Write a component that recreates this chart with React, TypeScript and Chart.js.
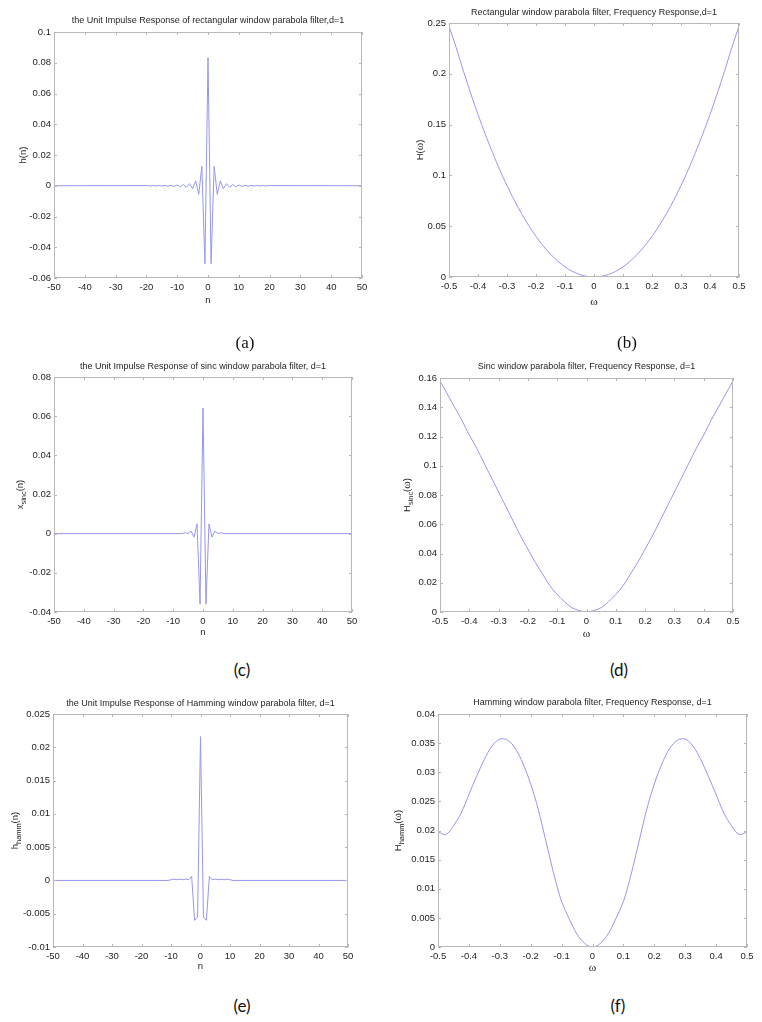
import React, { useEffect, useRef } from "react";
import { Chart, registerables } from "chart.js";

Chart.register(...registerables);

// ---------------- DATA ----------------
// (a) rectangular window impulse response
const nRect = [-50, -20, -19, -18, -17, -16, -15, -14, -13, -12, -11, -10, -9, -8, -7, -6, -5, -4, -3, -2, -1, 0, 1, 2, 3, 4, 5, 6, 7, 8, 9, 10, 11, 12, 13, 14, 15, 16, 17, 18, 19, 20, 50];
const hRect = [0, 0.00013, -0.00014, 0.00016, -0.00018, 0.0002, -0.00023, 0.00026, -0.0003, 0.00035, -0.00042, 0.0005, -0.00063, 0.00079, -0.001, 0.0014, -0.002, 0.0032, -0.0056, 0.0127, -0.0507, 0.0833, -0.0507, 0.0127, -0.0056, 0.0032, -0.002, 0.0014, -0.001, 0.00079, -0.00063, 0.0005, -0.00042, 0.00035, -0.0003, 0.00026, -0.00023, 0.0002, -0.00018, 0.00016, -0.00014, 0.00013, 0];

// (c) sinc window impulse response
const nSinc = [-50, -7, -6, -5, -4, -3, -2, -1, 0, 1, 2, 3, 4, 5, 6, 7, 50];
const hSinc = [0, 0, 0.0005, 0.0001, 0.0013, -0.0018, 0.005, -0.036, 0.0642, -0.036, 0.005, -0.0018, 0.0013, 0.0001, 0.0005, 0, 0];

// (e) Hamming window impulse response
const nHamm = [-50, -11, -10, -9, -8, -7, -6, -5, -4, -3, -2, -1, 0, 1, 2, 3, 4, 5, 6, 7, 8, 9, 10, 11, 50];
const hHamm = [0, 0, 0.0001, 0.0002, 0.0001, 0.0002, 0.0001, 0.0002, 0.0001, 0.0006, -0.006, -0.0055, 0.0216, -0.0055, -0.006, 0.0006, 0.0001, 0.0002, 0.0001, 0.0002, 0.0001, 0.0002, 0.0001, 0, 0];

// frequency axis
const omega = [-0.5, -0.475, -0.45, -0.425, -0.4, -0.375, -0.35, -0.325, -0.3, -0.275, -0.25, -0.225, -0.2, -0.175, -0.15, -0.125, -0.1, -0.075, -0.05, -0.025, 0, 0.025, 0.05, 0.075, 0.1, 0.125, 0.15, 0.175, 0.2, 0.225, 0.25, 0.275, 0.3, 0.325, 0.35, 0.375, 0.4, 0.425, 0.45, 0.475, 0.5];

// (b) rectangular window frequency response
const HRect = [0.247, 0.2256, 0.2025, 0.1806, 0.16, 0.1406, 0.1225, 0.1056, 0.09, 0.0756, 0.0625, 0.0506, 0.04, 0.0306, 0.0225, 0.0156, 0.01, 0.0056, 0.0025, 0.0006, 0, 0.0006, 0.0025, 0.0056, 0.01, 0.0156, 0.0225, 0.0306, 0.04, 0.0506, 0.0625, 0.0756, 0.09, 0.1056, 0.1225, 0.1406, 0.16, 0.1806, 0.2025, 0.2256, 0.247];

// (d) sinc window frequency response
const HSinc = [0.158, 0.149, 0.14, 0.131, 0.121, 0.112, 0.102, 0.092, 0.082, 0.072, 0.062, 0.052, 0.043, 0.034, 0.026, 0.018, 0.012, 0.007, 0.003, 0.001, 0, 0.001, 0.003, 0.007, 0.012, 0.018, 0.026, 0.034, 0.043, 0.052, 0.062, 0.072, 0.082, 0.092, 0.102, 0.112, 0.121, 0.131, 0.14, 0.149, 0.158];

// (f) Hamming window frequency response
const HHamm = [0.0198, 0.0193, 0.0208, 0.023, 0.0262, 0.0293, 0.0322, 0.0345, 0.0357, 0.0355, 0.0341, 0.0315, 0.028, 0.0235, 0.018, 0.0125, 0.0078, 0.0048, 0.0022, 0.0006, 0, 0.0006, 0.0022, 0.0048, 0.0078, 0.0125, 0.018, 0.0235, 0.028, 0.0315, 0.0341, 0.0355, 0.0357, 0.0345, 0.0322, 0.0293, 0.0262, 0.023, 0.0208, 0.0193, 0.0198];

// ---------------- STYLE ----------------
const LINE_COLOR = "rgb(150,150,240)";
const BOX_COLOR = "#b8b8b8";
const TEXT_COLOR = "#1e1e1e";
const SANS = '"Liberation Sans", Arial, sans-serif';
const SERIF = '"Liberation Serif", "Times New Roman", serif';
const TICK_SIZE = 9.5;

type Part = { t: string; sub?: boolean; serif?: boolean };

interface Spec {
  L: number; R: number; T: number; B: number;
  title: string;
  titleY: number;
  xLabel: Part[]; xLabelY: number;
  yLabel: Part[]; yLabelX: number;
  xs: number[]; ys: number[];
  smooth: number;
  xMin: number; xMax: number; xStep: number;
  yMin: number; yMax: number; yStep: number;
}

const PAD_L = 62;
const PAD_T = 32;
const PAD_R = 16;
const PAD_B = 32;

function drawParts(ctx: CanvasRenderingContext2D, parts: Part[], size: number) {
  const subSize = size * 0.78;
  const fontFor = (p: Part) =>
    `${p.sub ? subSize : p.serif ? size * 1.2 : size}px ${p.serif ? SERIF : SANS}`;
  let total = 0;
  const widths = parts.map((p) => {
    ctx.font = fontFor(p);
    const w = ctx.measureText(p.t).width;
    total += w;
    return w;
  });
  let x = -total / 2;
  parts.forEach((p, i) => {
    ctx.font = fontFor(p);
    ctx.fillText(p.t, x, p.sub ? size * 0.38 : 0);
    x += widths[i];
  });
}

const matlabPlugin = {
  id: "matlabFrame",
  afterDraw(chart: any, _args: any, opts: any) {
    const { ctx, chartArea: a, scales } = chart;
    ctx.save();
    // box
    ctx.strokeStyle = BOX_COLOR;
    ctx.lineWidth = 1;
    ctx.strokeRect(a.left + 0.5, a.top + 0.5, a.right - a.left - 1, a.bottom - a.top - 1);
    // inward ticks
    const tl = 3;
    ctx.beginPath();
    scales.x.ticks.forEach((t: any) => {
      const px = Math.round(scales.x.getPixelForValue(t.value)) + 0.5;
      ctx.moveTo(px, a.bottom);
      ctx.lineTo(px, a.bottom - tl);
      ctx.moveTo(px, a.top);
      ctx.lineTo(px, a.top + tl);
    });
    scales.y.ticks.forEach((t: any) => {
      const py = Math.round(scales.y.getPixelForValue(t.value)) + 0.5;
      ctx.moveTo(a.left, py);
      ctx.lineTo(a.left + tl, py);
      ctx.moveTo(a.right, py);
      ctx.lineTo(a.right - tl, py);
    });
    ctx.stroke();

    ctx.fillStyle = TEXT_COLOR;
    ctx.textBaseline = "middle";
    ctx.textAlign = "left";
    // title
    ctx.font = `9px ${SANS}`;
    const tw = ctx.measureText(opts.title).width;
    ctx.fillText(opts.title, (a.left + a.right) / 2 - tw / 2, a.top - opts.titleOff);
    // x label
    ctx.save();
    ctx.translate((a.left + a.right) / 2, a.bottom + opts.xLabOff);
    drawParts(ctx, opts.xLabel, 9.5);
    ctx.restore();
    // y label
    ctx.save();
    ctx.translate(a.left - opts.yLabOff, (a.top + a.bottom) / 2);
    ctx.rotate(-Math.PI / 2);
    drawParts(ctx, opts.yLabel, 9.5);
    ctx.restore();
    ctx.restore();
  },
};

const fmt = (v: any) => String(+Number(v).toFixed(6));

function Panel({ s }: { s: Spec }) {
  const ref = useRef<HTMLCanvasElement>(null);
  const w = s.R - s.L + PAD_L + PAD_R;
  const h = s.B - s.T + PAD_T + PAD_B;
  useEffect(() => {
    const chart = new Chart(ref.current as HTMLCanvasElement, {
      type: "line",
      data: {
        datasets: [
          {
            data: s.xs.map((x, i) => ({ x, y: s.ys[i] })),
            borderColor: LINE_COLOR,
            borderWidth: 1,
            pointRadius: 0,
            tension: s.smooth,
            fill: false,
          },
        ],
      },
      options: {
        responsive: false,
        animation: false,
        events: [],
        layout: { padding: { top: PAD_T, right: PAD_R, bottom: 0, left: 0 } },
        plugins: {
          legend: { display: false },
          tooltip: { enabled: false },
          title: { display: false },
          matlabFrame: {
            title: s.title,
            titleOff: s.T - s.titleY,
            xLabel: s.xLabel,
            xLabOff: s.xLabelY - s.B,
            yLabel: s.yLabel,
            yLabOff: s.L - s.yLabelX,
          },
        } as any,
        scales: {
          x: {
            type: "linear",
            min: s.xMin,
            max: s.xMax,
            ticks: {
              stepSize: s.xStep,
              autoSkip: false,
              maxRotation: 0,
              padding: 4,
              font: { family: SANS, size: TICK_SIZE },
              color: TEXT_COLOR,
              callback: fmt,
            },
            grid: { display: false, drawTicks: false },
            border: { display: false },
            afterFit: (sc: any) => {
              sc.height = PAD_B;
            },
          },
          y: {
            type: "linear",
            min: s.yMin,
            max: s.yMax,
            ticks: {
              stepSize: s.yStep,
              autoSkip: false,
              padding: 3,
              font: { family: SANS, size: TICK_SIZE },
              color: TEXT_COLOR,
              callback: fmt,
            },
            grid: { display: false, drawTicks: false },
            border: { display: false },
            afterFit: (sc: any) => {
              sc.width = PAD_L;
            },
          },
        },
      },
      plugins: [matlabPlugin as any],
    });
    return () => chart.destroy();
  }, []);
  return (
    <canvas
      ref={ref}
      width={w}
      height={h}
      style={{ position: "absolute", left: s.L - PAD_L, top: s.T - PAD_T, width: w, height: h }}
    />
  );
}

const OMEGA: Part[] = [{ t: "ω", serif: true }];
const N_LAB: Part[] = [{ t: "n" }];

const specs: Spec[] = [
  {
    L: 54, R: 362, T: 32, B: 278,
    title: "the Unit Impulse Response of rectangular window parabola filter,d=1",
    titleY: 21,
    xLabel: N_LAB, xLabelY: 300,
    yLabel: [{ t: "h(n)" }], yLabelX: 23,
    xs: nRect, ys: hRect, smooth: 0,
    xMin: -50, xMax: 50, xStep: 10,
    yMin: -0.06, yMax: 0.1, yStep: 0.02,
  },
  {
    L: 449, R: 739, T: 23, B: 277,
    title: "Rectangular window parabola filter, Frequency Response,d=1",
    titleY: 13,
    xLabel: OMEGA, xLabelY: 302,
    yLabel: [{ t: "H(" }, { t: "ω", serif: true }, { t: ")" }], yLabelX: 420,
    xs: omega, ys: HRect, smooth: 0.3,
    xMin: -0.5, xMax: 0.5, xStep: 0.1,
    yMin: 0, yMax: 0.25, yStep: 0.05,
  },
  {
    L: 54, R: 352, T: 377, B: 612,
    title: "the Unit Impulse Response of sinc window parabola filter, d=1",
    titleY: 367,
    xLabel: N_LAB, xLabelY: 632,
    yLabel: [{ t: "x" }, { t: "sinc", sub: true }, { t: "(n)" }], yLabelX: 20,
    xs: nSinc, ys: hSinc, smooth: 0,
    xMin: -50, xMax: 50, xStep: 10,
    yMin: -0.04, yMax: 0.08, yStep: 0.02,
  },
  {
    L: 440, R: 733, T: 378, B: 612,
    title: "Sinc window parabola filter, Frequency Response, d=1",
    titleY: 367,
    xLabel: OMEGA, xLabelY: 634,
    yLabel: [{ t: "H" }, { t: "sinc", sub: true }, { t: "(" }, { t: "ω", serif: true }, { t: ")" }], yLabelX: 407,
    xs: omega, ys: HSinc, smooth: 0.3,
    xMin: -0.5, xMax: 0.5, xStep: 0.1,
    yMin: 0, yMax: 0.16, yStep: 0.02,
  },
  {
    L: 53, R: 348, T: 714, B: 947,
    title: "the Unit Impulse Response of Hamming window parabola filter, d=1",
    titleY: 704,
    xLabel: N_LAB, xLabelY: 966,
    yLabel: [{ t: "h" }, { t: "hamm", sub: true }, { t: "(n)" }], yLabelX: 15,
    xs: nHamm, ys: hHamm, smooth: 0,
    xMin: -50, xMax: 50, xStep: 10,
    yMin: -0.01, yMax: 0.025, yStep: 0.005,
  },
  {
    L: 438, R: 747, T: 714, B: 947,
    title: "Hamming window parabola filter, Frequency Response, d=1",
    titleY: 703,
    xLabel: OMEGA, xLabelY: 968,
    yLabel: [{ t: "H" }, { t: "hamm", sub: true }, { t: "(" }, { t: "ω", serif: true }, { t: ")" }], yLabelX: 398,
    xs: omega, ys: HHamm, smooth: 0.35,
    xMin: -0.5, xMax: 0.5, xStep: 0.1,
    yMin: 0, yMax: 0.04, yStep: 0.005,
  },
];

const captions = [
  { t: "(a)", x: 245, y: 342, serif: true },
  { t: "(b)", x: 627, y: 342, serif: true },
  { t: "(c)", x: 242, y: 669, serif: false },
  { t: "(d)", x: 619, y: 669, serif: false },
  { t: "(e)", x: 242, y: 1005, serif: false },
  { t: "(f)", x: 618, y: 1005, serif: false },
];

export default function App() {
  return (
    <div
      style={{
        position: "absolute",
        left: 0,
        top: 0,
        width: 762,
        height: 1022,
        background: "#fff",
        overflow: "hidden",
      }}
    >
      {specs.map((s, i) => (
        <Panel key={i} s={s} />
      ))}
      {captions.map((c) => (
        <div
          key={c.t}
          style={{
            position: "absolute",
            left: c.x,
            top: c.y,
            transform: "translate(-50%, -50%)",
            fontFamily: c.serif ? SERIF : '"Lato", "Open Sans", sans-serif',
            fontSize: 17,
            lineHeight: 1,
            color: "#111",
            whiteSpace: "nowrap",
          }}
        >
          {c.t}
        </div>
      ))}
    </div>
  );
}
